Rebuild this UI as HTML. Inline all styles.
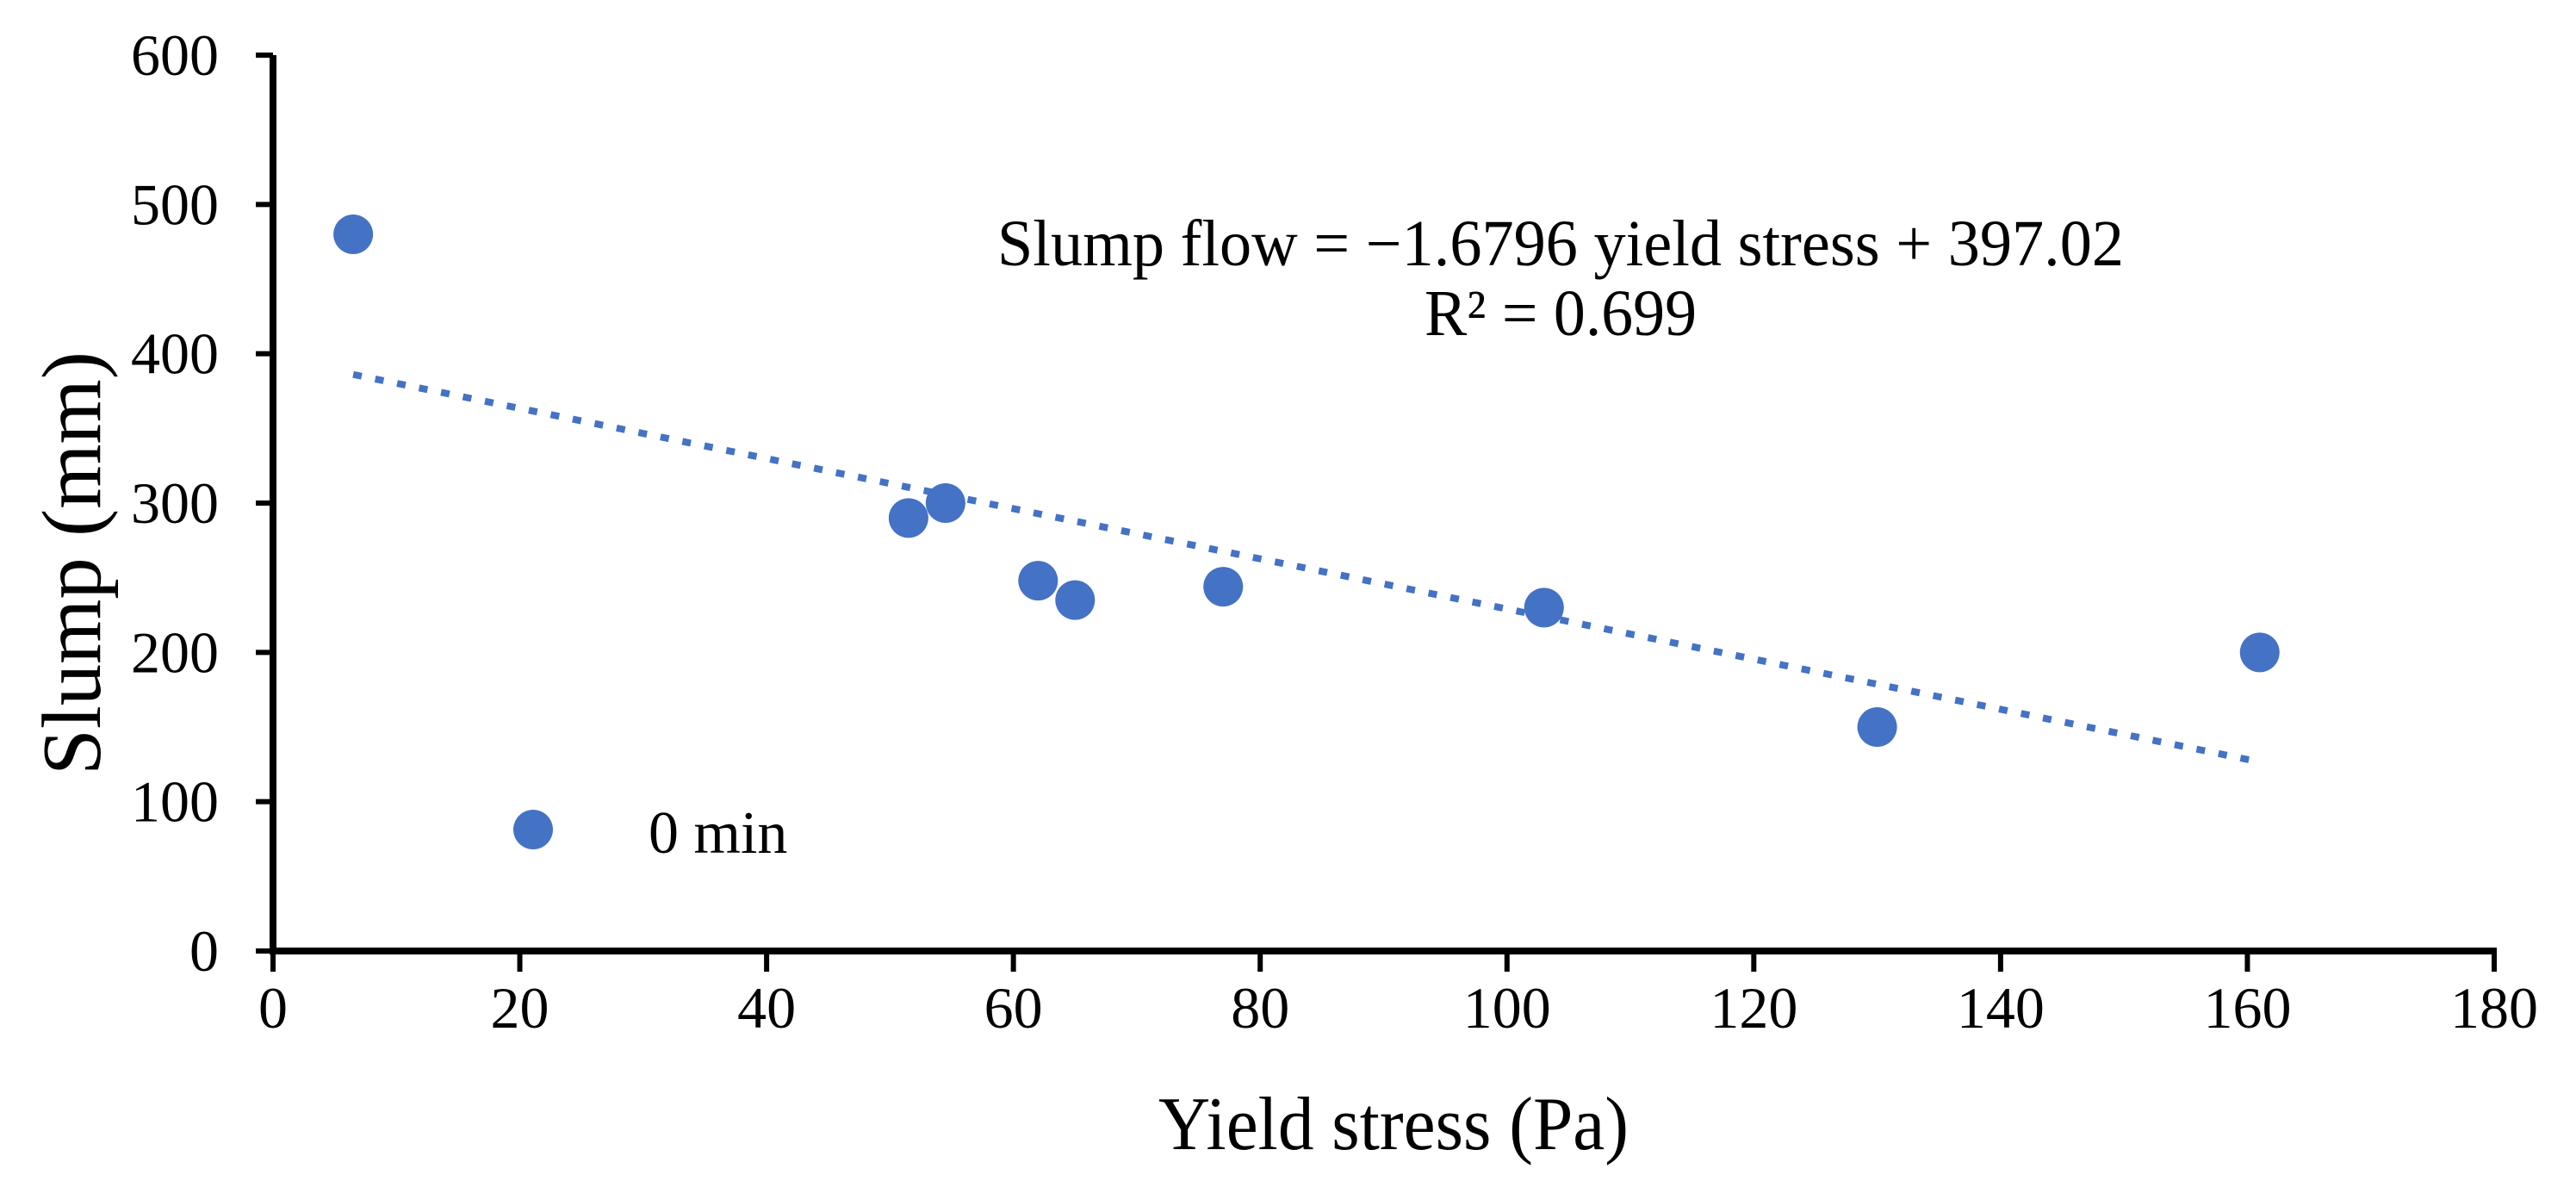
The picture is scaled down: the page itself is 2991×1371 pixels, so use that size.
<!DOCTYPE html>
<html><head><meta charset="utf-8"><style>html,body{margin:0;padding:0;background:#fff}svg{display:block}</style></head>
<body>
<svg id="chart" width="2991" height="1371" viewBox="0 0 2991 1371" xmlns="http://www.w3.org/2000/svg" font-family="'Liberation Serif', serif">
<g id="axes"></g><g id="trend"></g><g id="points"></g>
<text x="1158" y="308" font-size="76" textLength="1308" lengthAdjust="spacingAndGlyphs">Slump flow = −1.6796 yield  stress + 397.02</text>
<text x="1654" y="389" font-size="76" textLength="316" lengthAdjust="spacingAndGlyphs">R² = 0.699</text>
<text transform="translate(116,654) rotate(-90)" text-anchor="middle" font-size="98" textLength="492" lengthAdjust="spacingAndGlyphs">Slump (mm)</text>
<text x="1618" y="1334" text-anchor="middle" font-size="88" textLength="546" lengthAdjust="spacingAndGlyphs">Yield stress (Pa)</text>
<circle cx="619" cy="963" r="23" fill="#4472c4"/>
<text x="753" y="990" font-size="70">0 min</text>
</svg>
<script>
const xTicks=[0,20,40,60,80,100,120,140,160,180];
const yTicks=[0,100,200,300,400,500,600];
const xVals=[6.5,51.5,54.5,62,65,77,103,130,161];
const yVals=[480,290,300,248,235,244,230,150,200];
const slope=-1.6796, intercept=397.02;
const X=v=>317+v*(2896-317)/180;
const Y=v=>1104-v*(1104-64)/600;
const NS='http://www.w3.org/2000/svg';
function mk(tag,attrs,parent){const e=document.createElementNS(NS,tag);for(const k in attrs)e.setAttribute(k,attrs[k]);parent.appendChild(e);return e;}
const ax=document.getElementById('axes');
let l=mk('line',{x1:317,y1:Y(600),x2:317,y2:1108,stroke:'#000','stroke-width':8},ax);


l=mk('line',{x1:313,y1:1104,x2:2899,y2:1104,stroke:'#000','stroke-width':8},ax);


yTicks.forEach(v=>{
 const t=mk('line',{x1:297,y1:Y(v),x2:317,y2:Y(v),stroke:'#000','stroke-width':6},ax);
 
 
 const tx=mk('text',{x:254,y:Y(v)+23,'text-anchor':'end','font-size':68},ax);
 tx.textContent=v;
 
 
});
xTicks.forEach(v=>{
 const t=mk('line',{x1:X(v),y1:1104,x2:X(v),y2:1128,stroke:'#000','stroke-width':6},ax);
 
 
 const tx=mk('text',{x:X(v),y:1193,'text-anchor':'middle','font-size':68},ax);
 tx.textContent=v;
 
 
});
const xmin=Math.min(...xVals), xmax=Math.max(...xVals);
const tl=mk('line',{x1:X(xmin),y1:Y(slope*xmin+intercept),x2:X(xmax),y2:Y(slope*xmax+intercept),stroke:'#4472c4','stroke-width':8,'stroke-dasharray':'10 16'},document.getElementById('trend'));


const pg=document.getElementById('points');
xVals.forEach((x,i)=>{
 const c=mk('circle',{cx:X(x),cy:Y(yVals[i]),r:23,fill:'#4472c4'},pg);
 
 
});
</script>
</body></html>
